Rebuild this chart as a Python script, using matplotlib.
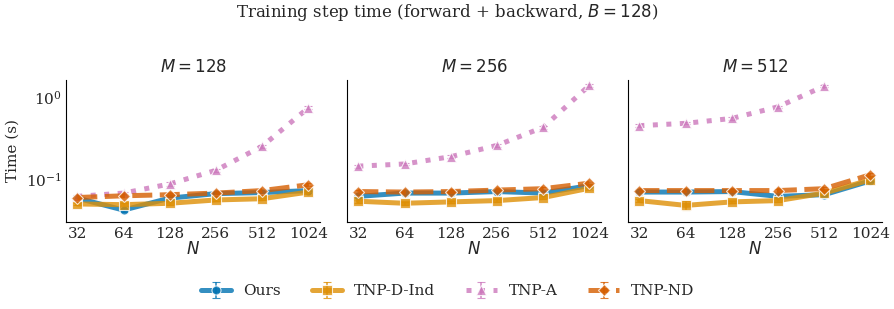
import matplotlib
matplotlib.use("Agg")
import matplotlib.pyplot as plt
import numpy as np
import seaborn as sns

N_VALUES = [32, 64, 128, 256, 512, 1024]
M_VALUES = [128, 256, 512]
METHODS = ["Ours", "TNP-D-Ind", "TNP-A", "TNP-ND"]

# mean step time (s) per M, per N
OURS = {
    128: [0.060, 0.043, 0.060, 0.068, 0.070, 0.074],
    256: [0.063, 0.069, 0.069, 0.072, 0.069, 0.085],
    512: [0.071, 0.071, 0.072, 0.063, 0.066, 0.097],
}
TNP_D_IND = {
    128: [0.051, 0.050, 0.052, 0.057, 0.059, 0.071],
    256: [0.055, 0.052, 0.054, 0.056, 0.061, 0.079],
    512: [0.056, 0.049, 0.054, 0.056, 0.069, 0.100],
}
TNP_A = {
    128: [0.063, 0.069, 0.089, 0.130, 0.254, 0.740],
    256: [0.146, 0.155, 0.190, 0.260, 0.430, 1.380],
    512: [0.450, 0.480, 0.550, 0.760, 1.350, np.nan],
}
TNP_ND = {
    128: [0.061, 0.064, 0.066, 0.069, 0.074, 0.087],
    256: [0.072, 0.071, 0.072, 0.075, 0.078, 0.091],
    512: [0.074, 0.074, 0.074, 0.074, 0.078, 0.115],
}

# standard deviation across runs
OURS_STD = {
    128: [0.002, 0.002, 0.002, 0.002, 0.002, 0.005],
    256: [0.002, 0.002, 0.002, 0.002, 0.002, 0.003],
    512: [0.002, 0.002, 0.002, 0.002, 0.003, 0.004],
}
TNP_D_IND_STD = {
    128: [0.002, 0.003, 0.002, 0.002, 0.002, 0.003],
    256: [0.002, 0.002, 0.002, 0.002, 0.002, 0.003],
    512: [0.002, 0.006, 0.002, 0.002, 0.003, 0.004],
}
TNP_A_STD = {
    128: [0.003, 0.003, 0.004, 0.005, 0.010, 0.030],
    256: [0.006, 0.006, 0.008, 0.010, 0.015, 0.050],
    512: [0.015, 0.015, 0.020, 0.025, 0.050, np.nan],
}
TNP_ND_STD = {
    128: [0.003, 0.003, 0.003, 0.003, 0.003, 0.004],
    256: [0.003, 0.003, 0.004, 0.003, 0.004, 0.004],
    512: [0.003, 0.004, 0.003, 0.003, 0.003, 0.005],
}

DATA = {"Ours": (OURS, OURS_STD), "TNP-D-Ind": (TNP_D_IND, TNP_D_IND_STD),
        "TNP-A": (TNP_A, TNP_A_STD), "TNP-ND": (TNP_ND, TNP_ND_STD)}

sns.set_style("white")
plt.rcParams["font.family"] = "DejaVu Serif"
plt.rcParams["mathtext.fontset"] = "dejavusans"

pal = sns.color_palette("colorblind")
STYLE = {
    "Ours": dict(color=pal[0], marker="o", ls="-"),
    "TNP-D-Ind": dict(color=pal[1], marker="s", ls="-"),
    "TNP-A": dict(color=pal[4], marker="^", ls=(0, (1, 1.7))),
    "TNP-ND": dict(color=pal[3], marker="D", ls=(0, (4, 1.5))),
}

fig = plt.figure(figsize=(8.95, 3.09), dpi=100)
lefts = [0.074, 0.388, 0.702]
axes = []
for i, m in enumerate(M_VALUES):
    ax = fig.add_axes([lefts[i], 0.282, 0.284, 0.459], sharey=axes[0] if axes else None)
    axes.append(ax)
    for name in METHODS:
        mean, std = DATA[name]
        st = STYLE[name]
        ax.errorbar(N_VALUES, mean[m], yerr=std[m], color=st["color"], ls=st["ls"],
                    lw=3.6, alpha=0.8, marker=st["marker"], ms=6.5, mec="white", mew=0.8,
                    capsize=3, elinewidth=1.2, label=name)
    ax.set_xscale("log", base=2)
    ax.set_xticks(N_VALUES)
    ax.set_xticklabels([str(n) for n in N_VALUES])
    ax.minorticks_off()
    ax.set_xlim(2 ** 4.76, 2 ** 10.26)
    ax.set_yscale("log")
    ax.set_ylim(0.031, 1.6)
    ax.tick_params(labelsize=11, length=0)
    ax.set_xlabel("$N$", fontsize=12, labelpad=0)
    ax.set_title(f"$M = {m}$", fontsize=12)
    for side in ["top", "right"]:
        ax.spines[side].set_visible(False)
    for side in ["left", "bottom"]:
        ax.spines[side].set_color("black")
    if i > 0:
        ax.tick_params(labelleft=False)

axes[0].set_ylabel("Time (s)", fontsize=11)
axes[0].yaxis.set_minor_locator(matplotlib.ticker.NullLocator())

fig.suptitle("Training step time (forward + backward, $B = 128$)", fontsize=12, y=0.995)
handles, labels = axes[0].get_legend_handles_labels()
fig.legend(handles, labels, loc="lower center", ncol=4, frameon=False, fontsize=11,
           bbox_to_anchor=(0.5, -0.01), handlelength=2, columnspacing=2)

fig.savefig("out.png", dpi=100)
